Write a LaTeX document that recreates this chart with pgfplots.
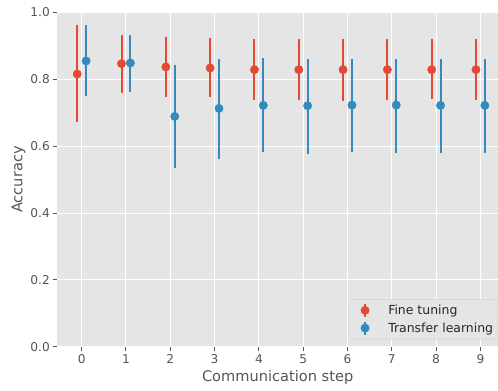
\documentclass[border=0pt]{standalone}
\usepackage{fontspec}
\setmainfont{DejaVu Sans}
\usepackage{pgfplots}
\usepackage{pgfplotstable}
\pgfplotsset{compat=1.18}
\definecolor{ftred}{HTML}{E24A33}
\definecolor{tlblue}{HTML}{348ABD}
\definecolor{bggrey}{HTML}{E5E5E5}
\definecolor{tickgrey}{HTML}{555555}
\definecolor{legedge}{HTML}{D3D3D3}

\pgfplotstableread{
x y ep em
-0.1 0.816 0.147 0.145
0.9 0.847 0.087 0.087
1.9 0.837 0.089 0.090
2.9 0.834 0.090 0.088
3.9 0.829 0.093 0.092
4.9 0.829 0.092 0.090
5.9 0.829 0.092 0.093
6.9 0.829 0.092 0.092
7.9 0.829 0.091 0.088
8.9 0.829 0.092 0.091
}\finetuning

\pgfplotstableread{
x y ep em
0.1 0.855 0.107 0.105
1.1 0.849 0.084 0.086
2.1 0.689 0.154 0.155
3.1 0.713 0.149 0.150
4.1 0.722 0.142 0.140
5.1 0.721 0.141 0.143
6.1 0.723 0.137 0.140
7.1 0.723 0.138 0.142
8.1 0.722 0.139 0.141
9.1 0.722 0.139 0.141
}\transfer

\begin{document}
\begin{tikzpicture}
\begin{axis}[
  scale only axis, width=440.7bp, height=334.2bp,
  xmin=-0.55, xmax=9.397, ymin=0, ymax=1,
  axis background/.style={fill=bggrey},
  axis line style={draw=none},
  grid=major, major grid style={white, line width=1bp},
  xtick={0,1,2,3,4,5,6,7,8,9},
  ytick={0,0.2,0.4,0.6,0.8,1.0},
  yticklabel style={/pgf/number format/.cd,fixed,fixed zerofill,precision=1},
  tick align=outside, major tick length=4.3bp,
  tick style={tickgrey, line width=1bp},
  xtick pos=left, ytick pos=left,
  ticklabel style={font=\fontsize{12.2}{14}\selectfont, text=tickgrey, inner sep=3bp},
  /pgf/number format/assume math mode=true,
  xlabel={Communication step}, ylabel={Accuracy},
  label style={font=\fontsize{14.65}{17}\selectfont, text=tickgrey},
  ylabel shift=-1.5bp,
  legend cell align=left,
  legend style={at={(1,0)}, anchor=south east, xshift=-1.3bp, yshift=7.4bp,
    fill=bggrey, draw=legedge, rounded corners=2bp,
    inner xsep=0bp, inner ysep=2.2bp,
    font=\fontsize{12.5}{14}\selectfont, text=black!85,
    nodes={inner xsep=3.4bp, inner ysep=0bp}, row sep=0bp, column sep=0bp},
]
\coordinate (SW) at (rel axis cs:0,0);
\coordinate (NE) at (rel axis cs:1,1);
\addlegendimage{legend image code/.code={\path[draw=none,fill=none] (0,-8.85bp) rectangle (36.5bp,8.85bp); \draw[ftred,line width=2bp,rounded corners=0pt] (16.7bp,-6.5bp)--(16.7bp,6.5bp); \fill[ftred] (16.7bp,0) circle (4.2bp);}}
\addlegendentry{Fine tuning}
\addlegendimage{legend image code/.code={\path[draw=none,fill=none] (0,-8.85bp) rectangle (36.5bp,8.85bp); \draw[tlblue,line width=2bp,rounded corners=0pt] (16.7bp,-6.5bp)--(16.7bp,6.5bp); \fill[tlblue] (16.7bp,0) circle (4.2bp);}}
\addlegendentry{Transfer learning}
\addplot[forget plot, only marks, mark=*, color=ftred, mark size=4.2bp,
  error bars/.cd, y dir=both, y explicit, error mark=none,
  error bar style={line width=2bp, ftred}]
  table[x=x, y=y, y error plus=ep, y error minus=em] {\finetuning};
\addplot[forget plot, only marks, mark=*, color=tlblue, mark size=4.2bp,
  error bars/.cd, y dir=both, y explicit, error mark=none,
  error bar style={line width=2bp, tlblue}]
  table[x=x, y=y, y error plus=ep, y error minus=em] {\transfer};
\end{axis}
\pgfresetboundingbox
\path[use as bounding box] ([xshift=-57.3bp,yshift=-43.3bp]SW) rectangle ([yshift=12.5bp]NE);
\end{tikzpicture}
\end{document}
